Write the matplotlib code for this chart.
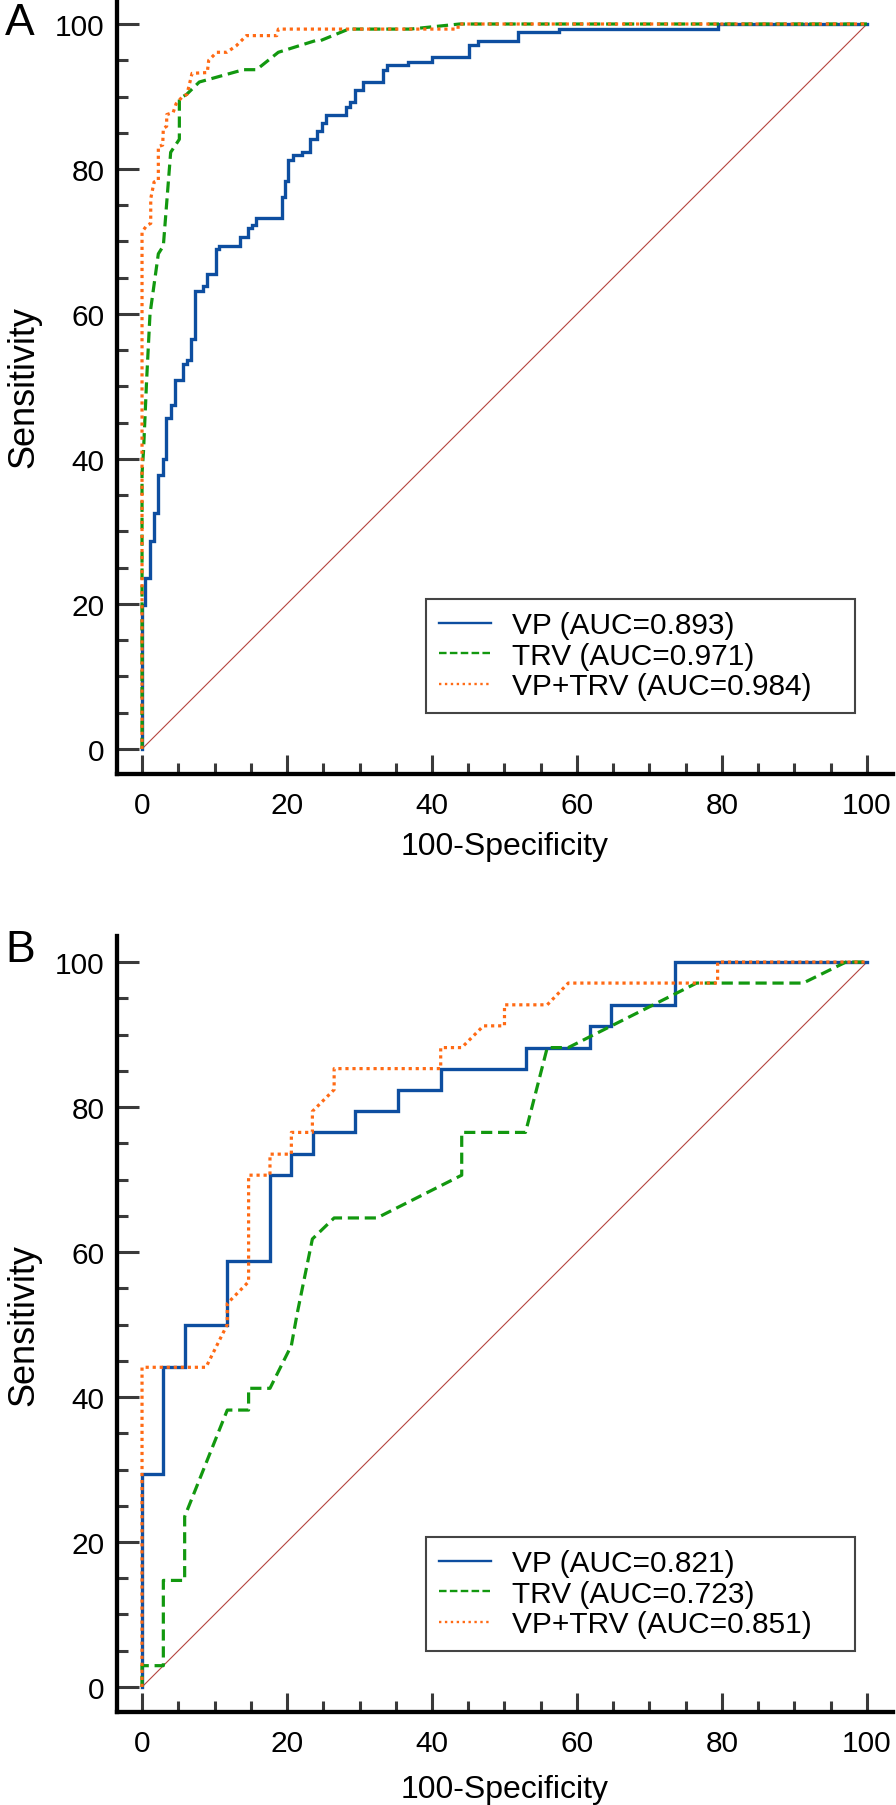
import matplotlib
matplotlib.use("Agg")
import matplotlib.pyplot as plt
from matplotlib.lines import Line2D
from matplotlib.ticker import MultipleLocator

plt.rcParams["font.family"] = ["Liberation Sans", "DejaVu Sans"]

# --- Farben / Stil ---
BLUE = "#0d4ea0"
GREEN = "#12980f"
ORANGE = "#ff6a14"
DIAG = "#b5453f"

# --- Panel A (Stufenpunkte, 100-Spezifitaet / Sensitivitaet) ---
a_vp_fpr = [0, 0, 0.46, 1.1, 1.66, 2.25, 2.85, 3.3, 3.95, 4.55, 5.6, 6.25, 6.7, 7.3, 8.46,
            9.0, 10.2, 10.67, 13.5, 14.67, 15.2, 15.7, 19.3, 19.7, 20.2, 20.8, 22.0, 23.2,
            24.2, 24.8, 25.4, 28.2, 28.7, 29.4, 30.5, 33.3, 33.8, 36.7, 40.0, 45.1, 46.3,
            51.9, 57.5, 79.5, 100]
a_vp_tpr = [0, 19.8, 23.6, 28.7, 32.6, 37.8, 40.0, 45.7, 47.4, 50.9, 53.1, 53.7, 56.6, 63.2,
            63.8, 65.5, 69.0, 69.4, 70.6, 71.8, 72.3, 73.3, 76.2, 78.4, 81.3, 81.9, 82.4, 84.1,
            85.3, 86.4, 87.5, 88.6, 89.2, 90.9, 92.0, 93.7, 94.3, 94.8, 95.4, 97.1, 97.6,
            98.9, 99.3, 100, 100]

a_trv_fpr = [0, 0, 0.2, 0.64, 1.1, 2.25, 2.94, 3.95, 5.15, 5.15, 6.16, 7.9, 14.0, 15.8, 18.8,
             23.9, 24.6, 28.5, 37.0, 43.8, 100]
a_trv_tpr = [0, 38, 41, 51, 60, 68.3, 69.4, 82.3, 84.1, 89.7, 90.3, 92.0, 93.7, 93.7, 96.1,
             97.7, 97.7, 99.3, 99.3, 100, 100]

a_comb_fpr = [0, 0, 0.64, 1.2, 1.2, 1.66, 2.25, 2.25, 2.85, 2.94, 3.4, 3.4, 4.3, 4.7, 5.5, 6.2,
              6.9, 9.0, 9.2, 10.3, 11.7, 13.0, 14.4, 18.6, 18.8, 43.6, 43.6, 100]
a_comb_tpr = [0, 71.3, 72.2, 72.5, 75.9, 78.2, 78.4, 83.1, 83.3, 85.6, 85.9, 87.5, 87.8, 89.0,
              89.9, 90.3, 93.2, 93.3, 95.0, 96.1, 96.1, 97.0, 98.4, 98.4, 99.3, 99.3, 100, 100]

a_labels = ["VP (AUC=0.893)", "TRV (AUC=0.971)", "VP+TRV (AUC=0.984)"]

# --- Panel B ---
b_vp_fpr = [0, 0, 2.94, 5.88, 11.76, 17.65, 20.59, 23.53, 29.41, 35.29, 41.18, 52.94, 61.76,
            64.71, 73.53, 100]
b_vp_tpr = [0, 29.4, 44.1, 50.0, 58.8, 70.6, 73.5, 76.5, 79.4, 82.4, 85.3, 88.2, 91.2, 94.1,
            100, 100]

b_trv_fpr = [0, 0, 2.94, 2.94, 5.88, 5.88, 11.76, 14.7, 14.7, 17.65, 20.6, 21.4, 23.5, 26.5,
             32.4, 44.1, 44.1, 52.9, 55.9, 58.8, 76.5, 91.2, 97.1, 100]
b_trv_tpr = [0, 2.94, 2.94, 14.7, 14.7, 23.5, 38.2, 38.2, 41.2, 41.2, 47.1, 51.5, 61.8, 64.7,
             64.7, 70.6, 76.5, 76.5, 88.2, 88.2, 97.1, 97.1, 100, 100]

b_comb_fpr = [0, 0, 8.82, 11.76, 11.76, 14.7, 14.7, 17.65, 17.65, 20.6, 20.6, 23.5, 23.5, 26.5,
              26.5, 41.2, 41.2, 44.1, 47.1, 50.0, 50.0, 55.9, 58.8, 79.4, 79.4, 100]
b_comb_tpr = [0, 44.1, 44.1, 50.0, 52.9, 55.9, 70.6, 70.6, 73.5, 73.5, 76.5, 76.5, 79.4, 82.4,
              85.3, 85.3, 88.2, 88.2, 91.2, 91.2, 94.1, 94.1, 97.1, 97.1, 100, 100]

b_labels = ["VP (AUC=0.821)", "TRV (AUC=0.723)", "VP+TRV (AUC=0.851)"]

LIM = (-3.45, 103.6)
FS = 21.5


def draw_panel(ax, vp, trv, comb, labels, xlabel_y):
    ax.plot([0, 100], [0, 100], color=DIAG, lw=0.8, zorder=1)
    ax.plot(vp[0], vp[1], color=BLUE, lw=2.4, drawstyle="steps-post",
            solid_joinstyle="miter", zorder=2)
    ax.plot(trv[0], trv[1], color=GREEN, lw=2.3, linestyle=(0, (3.5, 1.8)), zorder=3)
    ax.plot(comb[0], comb[1], color=ORANGE, lw=2.3, linestyle=(0, (1, 1.2)), zorder=4)

    ax.set_xlim(LIM)
    ax.set_ylim(LIM)
    ax.spines["top"].set_visible(False)
    ax.spines["right"].set_visible(False)
    for s in ("left", "bottom"):
        ax.spines[s].set_linewidth(3.1)
        ax.spines[s].set_color("black")

    ax.xaxis.set_major_locator(MultipleLocator(20))
    ax.yaxis.set_major_locator(MultipleLocator(20))
    ax.xaxis.set_minor_locator(MultipleLocator(5))
    ax.yaxis.set_minor_locator(MultipleLocator(5))
    ax.tick_params(which="both", direction="in", color="#3a3a3a", width=2.2, labelsize=FS)
    ax.tick_params(axis="y", which="major", length=16, pad=9)
    ax.tick_params(axis="x", which="major", length=14, pad=12)
    ax.tick_params(which="minor", length=8)

    ax.set_xlabel("100-Specificity", fontsize=23)
    ax.set_ylabel("Sensitivity", fontsize=26)
    ax.xaxis.set_label_coords(0.5, xlabel_y)
    ax.yaxis.set_label_coords(-0.097, 0.5)

    handles = [
        Line2D([], [], color=BLUE, lw=1.7),
        Line2D([], [], color=GREEN, lw=1.7, linestyle=(0, (3.2, 1.4))),
        Line2D([], [], color=ORANGE, lw=1.7, linestyle=(0, (1, 1.5))),
    ]
    leg = ax.legend(handles, labels, loc="lower left", mode="expand",
                    bbox_to_anchor=(39.2, 5.0, 59.1, 16.7),
                    bbox_transform=ax.transData, borderaxespad=0,
                    fontsize=FS, handlelength=1.75, handletextpad=0.7,
                    labelspacing=0.08, borderpad=0.42, fancybox=False,
                    edgecolor="#444444", framealpha=1)
    leg.get_frame().set_linewidth(1.5)


fig = plt.figure(figsize=(8.96, 18.06), dpi=100)
ax_a = fig.add_axes([0.1306, 0.5709, 0.8661, 0.4297])
ax_b = fig.add_axes([0.1306, 0.0515, 0.8661, 0.4297])

draw_panel(ax_a, (a_vp_fpr, a_vp_tpr), (a_trv_fpr, a_trv_tpr), (a_comb_fpr, a_comb_tpr),
           a_labels, -0.073)
draw_panel(ax_b, (b_vp_fpr, b_vp_tpr), (b_trv_fpr, b_trv_tpr), (b_comb_fpr, b_comb_tpr),
           b_labels, -0.08)

fig.text(5 / 896, 1 - 3 / 1806, "A", fontsize=32, ha="left", va="top")
fig.text(5 / 896, 1 - 930 / 1806, "B", fontsize=32, ha="left", va="top")

fig.savefig("out.png", dpi=100)
